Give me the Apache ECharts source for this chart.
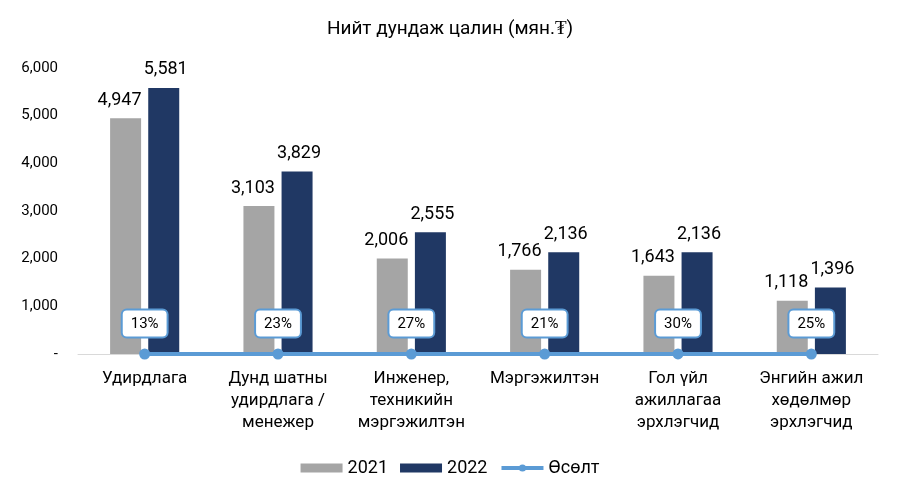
<!DOCTYPE html>
<html><head><meta charset="utf-8">
<script src="https://cdn.jsdelivr.net/npm/echarts@6/dist/echarts.min.js"></script>
<style>html,body{margin:0;padding:0;background:#fff}#c{width:900px;height:495px}</style>
</head><body><div id="c"></div>
<script>
const categories = ['Удирдлага', 'Дунд шатны\nудирдлага /\nменежер', 'Инженер,\nтехникийн\nмэргэжилтэн', 'Мэргэжилтэн', 'Гол үйл\nажиллагаа\nэрхлэгчид', 'Энгийн ажил\nхөдөлмөр\nэрхлэгчид'];
const values2021 = [4947, 3103, 2006, 1766, 1643, 1118];
const values2022 = [5581, 3829, 2555, 2136, 2136, 1396];
const growth = [0.13, 0.23, 0.27, 0.21, 0.30, 0.25];
const yTicks = [0, 1000, 2000, 3000, 4000, 5000, 6000];

const fmt = v => v.toLocaleString('en-US');
const chart = echarts.init(document.getElementById('c'));
chart.setOption({
  animation: false,
  textStyle: { fontFamily: 'Roboto' },
  title: { text: 'Нийт дундаж цалин (мян.₮)', left: 'center', top: 15,
    textStyle: { fontFamily: 'Roboto', fontSize: 19, fontWeight: 'normal', color: '#000' } },
  grid: { left: 78, right: 22, top: 68, bottom: 141 },
  legend: { bottom: 13, left: 'center', itemWidth: 42, itemHeight: 9, itemGap: 12,
    textStyle: { fontSize: 18, color: '#000', fontFamily: 'Roboto' },
    data: [{ name: '2021', icon: 'rect' }, { name: '2022', icon: 'rect' },
      { name: 'Өсөлт', itemStyle: { color: '#5B9BD5' }, lineStyle: { width: 4, color: '#5B9BD5' } }] },
  xAxis: { type: 'category', data: categories,
    axisLine: { lineStyle: { color: '#D9D9D9', width: 1 } }, axisTick: { show: false },
    axisLabel: { fontSize: 17, color: '#000', lineHeight: 22, margin: 14, interval: 0 } },
  yAxis: { type: 'value', min: 0, max: 6000, interval: 1000,
    splitLine: { show: false }, axisLine: { show: false }, axisTick: { show: false },
    axisLabel: { fontSize: 15, color: '#000', margin: 20, formatter: v => v === 0 ? '-' : fmt(v) } },
  series: [
    { name: '2021', type: 'bar', data: values2021, barWidth: 31, barGap: '23%',
      itemStyle: { color: '#A5A5A5' },
      label: { show: true, position: 'top', offset: [-6, -4], fontSize: 18, color: '#000', formatter: p => fmt(p.value) } },
    { name: '2022', type: 'bar', data: values2022, barWidth: 31,
      itemStyle: { color: '#203864' },
      label: { show: true, position: 'top', offset: [2, -4], fontSize: 18, color: '#000', formatter: p => fmt(p.value) } },
    { name: 'Өсөлт', type: 'line', data: growth, symbol: 'circle', symbolSize: 11, z: 5,
      lineStyle: { color: '#5B9BD5', width: 4 }, itemStyle: { color: '#5B9BD5' },
      label: { show: true, position: 'top', distance: 12, fontSize: 15, color: '#000',
        backgroundColor: '#fff', borderColor: '#5B9BD5', borderWidth: 2, borderRadius: 4,
        padding: [6, 8, 5, 8], formatter: p => Math.round(p.value * 100) + '%' } }
  ]
});
</script></body></html>
